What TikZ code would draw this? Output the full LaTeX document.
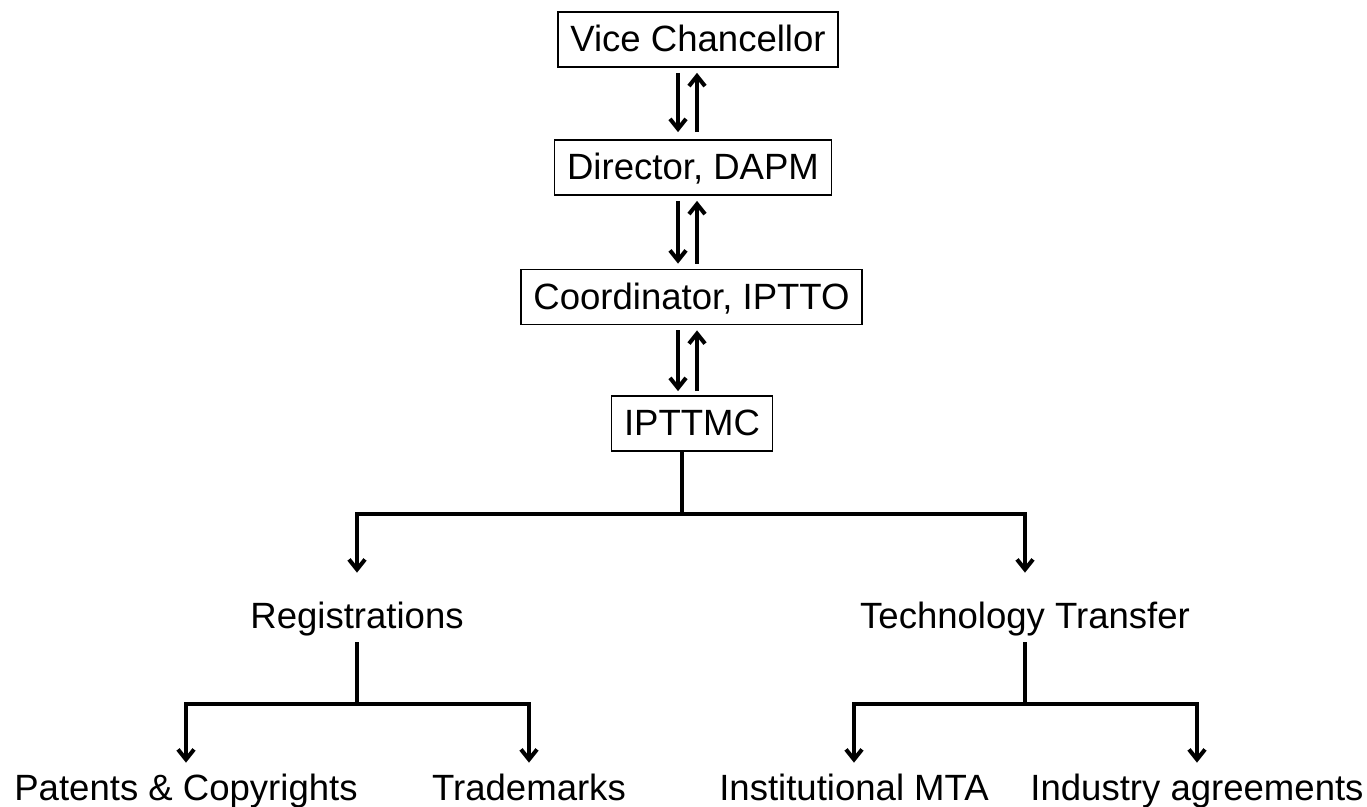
\documentclass[tikz,border=0pt]{standalone}
\usepackage{fontspec}
\setmainfont{Liberation Sans}
\usetikzlibrary{arrows.meta, positioning}

\begin{document}
\begin{tikzpicture}[x=0.02cm, y=-0.02cm, every node/.style={font=\fontsize{20.8}{24}\selectfont},
	office/.style={draw, line width=1pt, text height=0.5cm, text depth=0pt, minimum height=1.1cm, inner xsep=0.25cm},
	unit/.style={anchor=base, text height=0.5cm, text depth=0.14cm, inner sep=0pt},
	link/.style={line width=2.3pt},
	flow/.style={line width=2.3pt, -{Straight Barb[length=2mm, width=3.2mm]}}]
	\useasboundingbox (0,0) rectangle (1367,807);

	% Draw the boxes
	\node[office] (vc) at (698, 39.5) {Vice Chancellor};
	\node[office] (dir) at (693, 167.5) {Director, DAPM};
	\node[office] (coord) at (691.5, 297) {Coordinator, IPTTO};
	\node[office] (ipttmc) at (692, 423.5) {IPTTMC};

	% Draw the arrows between the boxes
	\coordinate (dn) at (678, 0);
	\coordinate (up) at (697, 0);
	\draw[flow, shorten <=0.1cm, shorten >=0.14cm] (vc.south -| dn) -- (dir.north -| dn);
	\draw[flow, shorten <=0.14cm, shorten >=0.1cm] (dir.north -| up) -- (vc.south -| up);
	\draw[flow, shorten <=0.1cm, shorten >=0.1cm] (dir.south -| dn) -- (coord.north -| dn);
	\draw[flow, shorten <=0.1cm, shorten >=0.1cm] (coord.north -| up) -- (dir.south -| up);
	\draw[flow, shorten <=0.1cm, shorten >=0.08cm] (coord.south -| dn) -- (ipttmc.north -| dn);
	\draw[flow, shorten <=0.08cm, shorten >=0.1cm] (ipttmc.north -| up) -- (coord.south -| up);

	% Draw the two branches
	\node[unit] (reg) at (357, 629) {Registrations};
	\node[unit] (tt) at (1025, 629) {Technology Transfer};

	\coordinate (split) at (682, 514);
	\draw[link] (ipttmc.south -| split) -- (split);
	\draw[flow, shorten >=0.62cm] (split) -| (reg.north);
	\draw[flow, shorten >=0.62cm] (split) -| (tt.north);

	% Draw the leaves
	\node[unit] (pat) at (186, 800) {Patents \& Copyrights};
	\node[unit] (tm) at (529, 800) {Trademarks};
	\node[unit] (mta) at (854, 800) {Institutional MTA};
	\node[unit] (ind) at (1197, 800) {Industry agreements};

	\coordinate (regsplit) at (357, 704);
	\coordinate (ttsplit) at (1025, 704);
	\draw[link, shorten <=0.12cm] (reg.south) -- (regsplit);
	\draw[flow, shorten >=0.24cm] (regsplit) -| (pat.north);
	\draw[flow, shorten >=0.24cm] (regsplit) -| (tm.north);
	\draw[link, shorten <=0.12cm] (tt.south) -- (ttsplit);
	\draw[flow, shorten >=0.24cm] (ttsplit) -| (mta.north);
	\draw[flow, shorten >=0.24cm] (ttsplit) -| (ind.north);
\end{tikzpicture}
\end{document}
